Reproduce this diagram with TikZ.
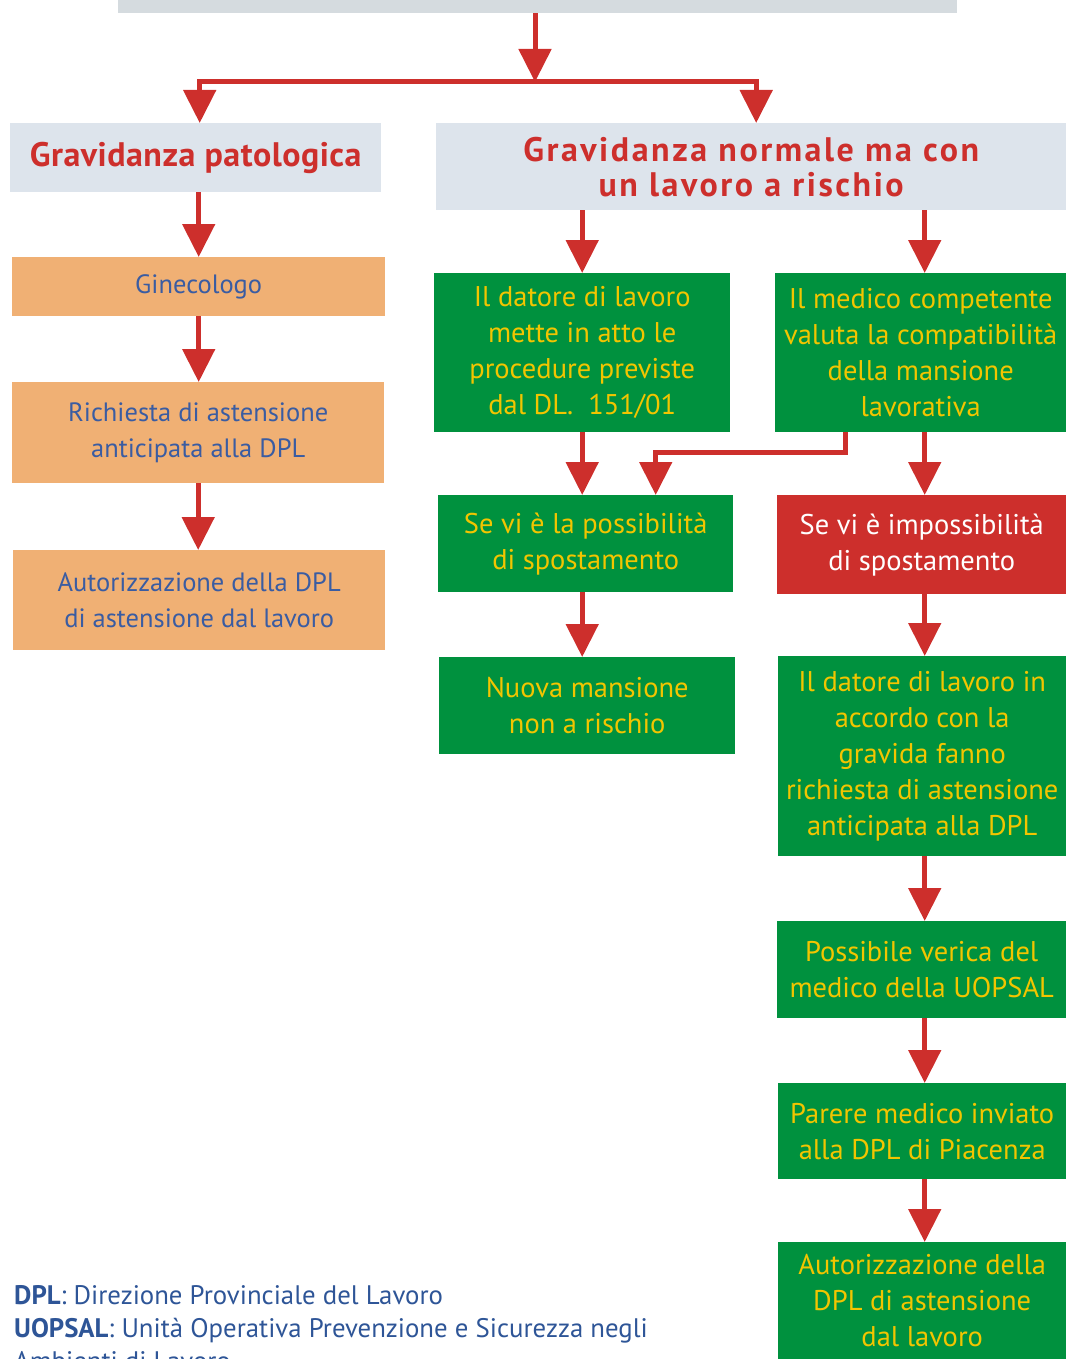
\documentclass[tikz,border=0pt]{standalone}
\usepackage{fontspec}
\setmainfont{PT Sans}
\usetikzlibrary{arrows.meta,calc}
\definecolor{cgray}{HTML}{D5DBDF}
\definecolor{clight}{HTML}{DDE4EC}
\definecolor{corange}{HTML}{F0B074}
\definecolor{cblue}{HTML}{3A5CA2}
\definecolor{cgreen}{HTML}{00913E}
\definecolor{cyellow}{HTML}{F2C500}
\definecolor{cred}{HTML}{CD2F2C}
\definecolor{clegend}{HTML}{2E5597}
\tikzset{
  bx/.style={anchor=north west, inner sep=0pt, align=center, font=\fontsize{28.5}{36}\selectfont},
  headbox/.style={bx, fill=clight, text=cred, font=\fontsize{34}{35}\selectfont\bfseries},
  orbox/.style={bx, fill=corange, text=cblue, font=\fontsize{26.5}{36}\selectfont},
  grbox/.style={bx, fill=cgreen, text=cyellow},
  rdbox/.style={bx, fill=cred, text=white},
  arr/.style={draw=cred, line width=5pt, -{Triangle[width=32pt,length=33pt]}},
  ln/.style={draw=cred, line width=5pt}
}
\begin{document}
\begin{tikzpicture}[x=1pt,y=-1pt]
\useasboundingbox (0,0) rectangle (1066,1359);
\node[bx, fill=cgray, minimum width=839pt, minimum height=13pt] (gbar) at (118,0) {};
% title boxes
\node[headbox, minimum width=371pt, minimum height=69pt] (pat) at (10,123) {\addfontfeature{LetterSpace=1.5}Gravidanza patologica};
\node[headbox, minimum width=630pt, minimum height=87pt] (norm) at (436,123) {\addfontfeature{LetterSpace=7.5}Gravidanza normale ma con\\\addfontfeature{LetterSpace=7.5}un lavoro a rischio};
% left column
\node[orbox, minimum width=373pt, minimum height=59pt] (gin) at (12,257) {Ginecologo};
\node[orbox, minimum width=372pt, minimum height=101pt] (ric) at (12,382) {Richiesta di astensione\\anticipata alla DPL};
\node[orbox, minimum width=372pt, minimum height=100pt] (aut) at (13,550) {Autorizzazione della DPL\\di astensione dal lavoro};
% middle column
\node[grbox, minimum width=296pt, minimum height=159pt] (dat) at (434,273) {Il datore di lavoro\\mette in atto le\\procedure previste\\dal DL.\ \ 151/01};
\node[grbox, minimum width=295pt, minimum height=97pt] (pos) at (438,495) {Se vi è la possibilità\\di spostamento};
\node[grbox, minimum width=296pt, minimum height=97pt] (nuo) at (439,657) {Nuova mansione\\non a rischio};
% right column
\node[grbox, minimum width=291pt, minimum height=159pt] (med) at (775,273) {Il medico competente\\valuta la compatibilità\\della mansione\\lavorativa};
\node[rdbox, minimum width=289pt, minimum height=99pt] (imp) at (777,495) {Se vi è impossibilità\\di spostamento};
\node[grbox, minimum width=288pt, minimum height=200pt] (acc) at (778,656) {Il datore di lavoro in\\accordo con la\\gravida fanno\\richiesta di astensione\\anticipata alla DPL};
\node[grbox, minimum width=289pt, minimum height=97pt] (ver) at (777,921) {Possibile verica del\\medico della UOPSAL};
\node[grbox, minimum width=288pt, minimum height=96pt] (par) at (778,1083) {Parere medico inviato\\alla DPL di Piacenza};
\node[grbox, minimum width=288pt, minimum height=117pt, anchor=north west] (fin) at (778,1242) {\strut Autorizzazione della\\DPL di astensione\\dal lavoro\vphantom{g}};
% legend
\node[anchor=north west, inner sep=0pt, align=left, text=clegend, font=\fontsize{26.8}{33}\selectfont] (leg) at (14,1285)
  {\textbf{DPL}: Direzione Provinciale del Lavoro\\\textbf{UOPSAL}: Unità Operativa Prevenzione e Sicurezza negli\\Ambienti di Lavoro};
% connectors
\coordinate (j) at (535,82);
\coordinate (rc) at ([xshift=4pt]med.north);
\coordinate (mc) at (dat.north);
\draw[arr] (gbar.south -| j) -- (j);
\draw[arr] (j) -| ([xshift=4pt]pat.north);
\draw[arr] (j) -| ([xshift=5pt]norm.north);
\draw[arr] (pat.south -| gin.north) -- (gin.north);
\draw[arr] (gin.south) -- (ric.north -| gin.south);
\draw[arr] (ric.south) -- (aut.north -| ric.south);
\draw[arr] (norm.south -| mc) -- (dat.north);
\draw[arr] (norm.south -| rc) -- (med.north -| rc);
\draw[arr] (dat.south) -- (pos.north -| mc);
\draw[arr] ([xshift=70pt]med.south west) -- ++(0,20) -| ([xshift=70pt]pos.north);
\draw[arr] (med.south -| rc) -- (imp.north -| rc);
\draw[arr] (pos.south -| mc) -- (nuo.north -| mc);
\draw[arr] (imp.south -| rc) -- (acc.north -| rc);
\draw[arr] (acc.south -| rc) -- (ver.north -| rc);
\draw[arr] (ver.south -| rc) -- (par.north -| rc);
\draw[arr] (par.south -| rc) -- (fin.north -| rc);
\end{tikzpicture}
\end{document}
